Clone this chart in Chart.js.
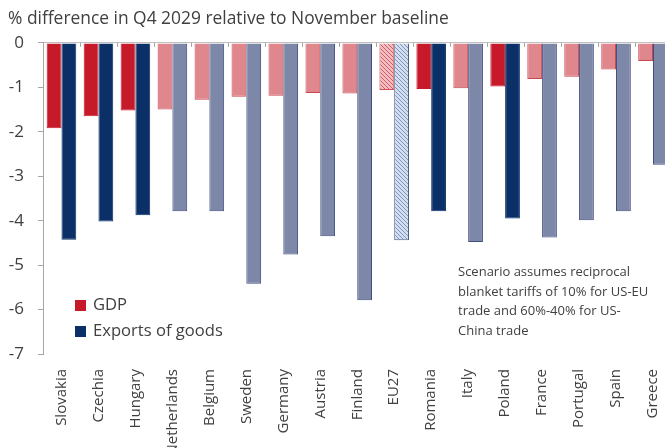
<!DOCTYPE html>
<html>
<head>
<meta charset="utf-8">
<script src="https://cdn.jsdelivr.net/npm/chart.js@4.4.1/dist/chart.umd.min.js"></script>
<style>
  html, body { margin: 0; padding: 0; background: #fff; overflow: hidden; }
  #wrap { position: relative; width: 678px; height: 448px; }
  .legend { position: absolute; left: 75px; top: 291px; font-family: 'Open Sans', sans-serif; font-size: 16.6px; color: #404040; }
  .legend div { height: 26px; line-height: 26px; white-space: nowrap; }
  .legend span { display: inline-block; width: 11px; height: 11px; margin-right: 7px; vertical-align: -1px; }
  .note { position: absolute; left: 458px; top: 262px; font-family: 'Open Sans', sans-serif; font-size: 13px; line-height: 19.5px; color: #404040; white-space: nowrap; }
</style>
</head>
<body>
<div id="wrap">
  <canvas id="chart" width="678" height="448"></canvas>
  <div class="legend">
    <div><span style="background:#C61A2A"></span>GDP</div>
    <div><span style="background:#0B3068"></span>Exports of goods</div>
  </div>
  <div class="note">Scenario assumes reciprocal<br>blanket tariffs of 10% for US-EU<br>trade and 60%-40% for US-<br>China trade</div>
</div>
<script>
// data
const countries = ['Slovakia', 'Czechia', 'Hungary', 'Netherlands', 'Belgium', 'Sweden', 'Germany', 'Austria',
  'Finland', 'EU27', 'Romania', 'Italy', 'Poland', 'France', 'Portugal', 'Spain', 'Greece']
const gdp = [-1.92, -1.65, -1.52, -1.50, -1.28, -1.21, -1.19, -1.13, -1.14, -1.06, -1.04, -1.02, -0.98, -0.81, -0.76, -0.60, -0.41]
const exportsGoods = [-4.43, -4.02, -3.88, -3.79, -3.79, -5.42, -4.76, -4.35, -5.79, -4.44, -3.79, -4.48, -3.95, -4.38, -3.99, -3.79, -2.74]
const highlighted = ['Slovakia', 'Czechia', 'Hungary', 'Romania', 'Poland']
const aggregate = 'EU27'
const yTicks = [0, -1, -2, -3, -4, -5, -6, -7]

const textColor = '#404040'
const axisColor = '#A6A6A6'
Chart.defaults.font.family = "'Open Sans', sans-serif"

// diagonal hatch fill for the EU27 bars
function hatch(bg, line) {
    const c = document.createElement('canvas')
    c.width = 4
    c.height = 4
    const g = c.getContext('2d')
    g.fillStyle = bg
    g.fillRect(0, 0, 4, 4)
    g.strokeStyle = line
    g.lineWidth = 1
    g.beginPath()
    g.moveTo(-1, -1); g.lineTo(5, 5)
    g.moveTo(-1, 3); g.lineTo(1, 5)
    g.moveTo(3, -1); g.lineTo(5, 1)
    g.stroke()
    return g.createPattern(c, 'repeat')
}

const gdpHatch = hatch('#F1BEC1', '#D45B63')
const expHatch = hatch('#D3DEEE', '#7E96BE')

function pick(name, dark, light, eu) {
    if (name === aggregate) return eu
    return highlighted.includes(name) ? dark : light
}

const gdpFill = countries.map(n => pick(n, '#C61A2A', '#E0878D', gdpHatch))
const gdpEdge = countries.map(n => pick(n, '#C61A2A', '#C94650', '#D0505A'))
const expFill = countries.map(n => pick(n, '#0B3068', '#7D88A8', expHatch))
const expEdge = countries.map(n => pick(n, '#0B3068', '#3F4C7E', '#4E5F8C'))

// small tick marks hanging from the zero line between categories
const zeroTicks = {
    id: 'zeroTicks',
    afterDatasetsDraw(chart) {
        const x = chart.scales.x
        const top = chart.chartArea.top
        const ctx = chart.ctx
        ctx.save()
        ctx.strokeStyle = axisColor
        ctx.lineWidth = 1
        ctx.beginPath()
        for (let i = 1; i < countries.length; i++) {
            const px = Math.round((x.getPixelForTick(i - 1) + x.getPixelForTick(i)) / 2) + 0.5
            ctx.moveTo(px, top)
            ctx.lineTo(px, top + 4)
        }
        ctx.stroke()
        ctx.restore()
    }
}

new Chart(document.getElementById('chart'), {
    type: 'bar',
    data: {
        labels: countries,
        datasets: [{
            label: 'GDP',
            data: gdp,
            backgroundColor: gdpFill,
            borderColor: gdpEdge,
            borderWidth: 1,
            categoryPercentage: 0.8,
            barPercentage: 1.0
        }, {
            label: 'Exports of goods',
            data: exportsGoods,
            backgroundColor: expFill,
            borderColor: expEdge,
            borderWidth: 1,
            categoryPercentage: 0.8,
            barPercentage: 1.0
        }]
    },
    options: {
        responsive: false,
        animation: false,
        layout: { padding: { left: 8, right: 0, top: 0, bottom: 0 } },
        plugins: {
            legend: { display: false },
            tooltip: { enabled: false },
            title: {
                display: true,
                text: '% difference in Q4 2029 relative to November baseline',
                align: 'start',
                color: textColor,
                font: { size: 17.4, weight: 'normal' },
                padding: { top: 9, bottom: 13 }
            }
        },
        scales: {
            x: {
                grid: { display: false },
                border: { display: false },
                ticks: {
                    color: textColor,
                    font: { size: 15 },
                    minRotation: 90,
                    maxRotation: 90,
                    autoSkip: false,
                    padding: 7
                },
                afterFit(scale) { scale.height = 94 }
            },
            y: {
                min: -7,
                max: 0,
                afterBuildTicks(scale) { scale.ticks = yTicks.map(v => ({ value: v })) },
                grid: {
                    color: c => c.tick && c.tick.value === 0 ? '#BFBFBF' : 'rgba(0,0,0,0)',
                    tickColor: axisColor,
                    tickLength: 5
                },
                border: { display: true, color: axisColor },
                ticks: {
                    color: textColor,
                    font: { size: 17 },
                    padding: 14
                },
                afterFit(scale) { scale.width = 35 }
            }
        }
    },
    plugins: [zeroTicks]
})
</script>
</body>
</html>
